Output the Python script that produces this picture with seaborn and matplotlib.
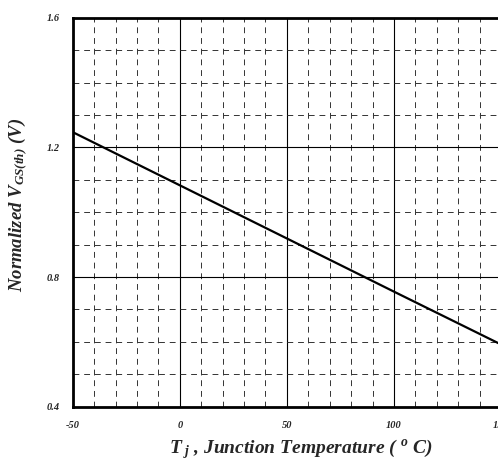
import numpy as np
import pandas as pd
import matplotlib
matplotlib.use("Agg")
import matplotlib.pyplot as plt
from matplotlib.ticker import MultipleLocator
import seaborn as sns

# data
temp_c = [-50, 0, 50, 100, 150]
vgs_norm = [1.247, 1.083, 0.919, 0.755, 0.592]
x_ticks = [-50, 0, 50, 100, 150]
y_ticks = [0.4, 0.8, 1.2, 1.6]

df = pd.DataFrame({"T": temp_c, "V": vgs_norm})

sns.set_style("white")
plt.rcParams['font.family'] = ['Liberation Serif', 'DejaVu Serif']
plt.rcParams['mathtext.fontset'] = 'custom'
plt.rcParams['mathtext.rm'] = 'Liberation Serif:bold:italic'
plt.rcParams['mathtext.it'] = 'Liberation Serif:bold:italic'
plt.rcParams['mathtext.bf'] = 'Liberation Serif:bold:italic'

fig = plt.figure(figsize=(4.98, 4.62), dpi=100)
ax = fig.add_axes([0.146, 0.1197, 0.860, 0.842])

sns.lineplot(data=df, x="T", y="V", color="black", linewidth=1.6, ax=ax, zorder=5)

ax.set_xlim(-50, 150)
ax.set_ylim(0.4, 1.6)
ax.set_xticks(x_ticks)
ax.set_yticks(y_ticks)
ax.xaxis.set_minor_locator(MultipleLocator(10))
ax.yaxis.set_minor_locator(MultipleLocator(0.1))
ax.set_xticklabels([str(t) for t in x_ticks])
ax.set_yticklabels([f"{t:.1f}" for t in y_ticks])

ax.grid(which="major", color="black", linestyle="-", linewidth=0.8)
ax.grid(which="minor", color="#333333", linestyle=(0, (6, 5)), linewidth=0.7)
ax.tick_params(which="both", length=0)
ax.tick_params(axis="x", pad=10)
ax.tick_params(axis="y", pad=9)
for lab in ax.get_xticklabels() + ax.get_yticklabels():
    lab.set_fontsize(7.5)
    lab.set_fontweight("bold")
    lab.set_fontstyle("italic")

for s in ax.spines.values():
    s.set_color("black")
    s.set_linewidth(2)

ax.set_xlabel(r"$T_{\ j}$ , Junction Temperature ( $^{o}$ C)", fontsize=14,
              fontweight="bold", fontstyle="italic")
ax.set_ylabel(r"Normalized V$_{GS(th)}$ (V)", fontsize=13.5,
              fontweight="bold", fontstyle="italic")
ax.xaxis.set_label_coords(0.533, -0.077)
ax.yaxis.set_label_coords(-0.102, 0.52)

plt.savefig("out.png", dpi=100, facecolor="white")
plt.close()
